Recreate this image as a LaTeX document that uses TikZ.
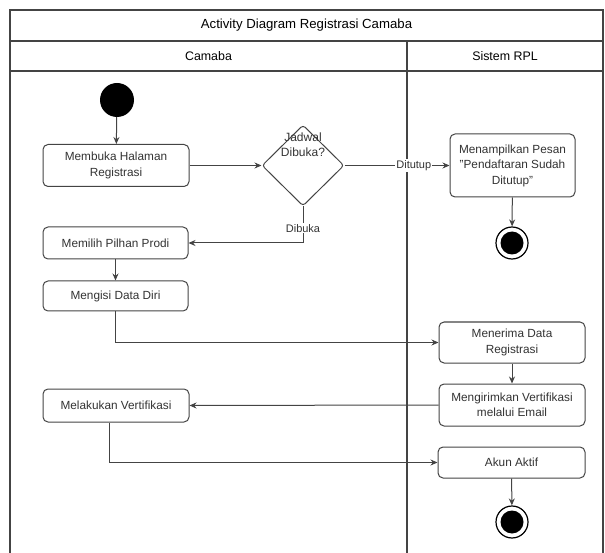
\documentclass[tikz,border=0pt]{standalone}
\usepackage{fontspec}
\setmainfont{Liberation Sans}
\usetikzlibrary{shapes.geometric,arrows.meta}
\definecolor{ln}{HTML}{444444}
\definecolor{tx}{HTML}{333333}
\tikzset{
  act/.style={draw=ln, line width=1pt, rounded corners=5pt, fill=white, text=tx, align=center, font=\fontsize{11.8}{15.5}\selectfont, inner sep=0pt},
  conn/.style={draw=ln, line width=1pt, -{Stealth[length=7pt,width=6pt]}},
  lane/.style={draw=ln, line width=1.1pt},
  lbl/.style={fill=white, text=tx, font=\fontsize{11}{13}\selectfont, inner sep=1pt},
  hdr/.style={text=black, font=\fontsize{12.4}{14}\selectfont},
  endst/.style={circle, draw=black, line width=1.2pt, minimum size=32pt, inner sep=0pt, fill=white,
    path picture={\fill[black] (path picture bounding box.center) circle (11.5pt);}}
}
\begin{document}
\begin{tikzpicture}[x=1pt,y=-1pt]
\useasboundingbox (0,0) rectangle (605,553);
% swimlane frame
\draw[lane] (10,553) -- (10,10) -- (603,10) -- (603,553);
\draw[lane] (10,41) -- (603,41);
\draw[lane] (10,71) -- (603,71);
\draw[lane] (407,41) -- (407,553);
\node[hdr, font=\fontsize{13.2}{15}\selectfont] (title) at (306.5,25.5) {Activity Diagram Registrasi Camaba};
\node[hdr] (laneA) at (208.5,56) {Camaba};
\node[hdr] (laneB) at (505,56) {Sistem RPL};
% nodes
\node[circle, fill=black, minimum size=34pt, inner sep=0pt] (start) at (117,100) {};
\node[act, minimum width=146pt, minimum height=42pt] (membuka) at (116,165.5) {Membuka Halaman\\Registrasi};
\node[diamond, draw=ln, line width=1pt, rounded corners=3pt, minimum width=82pt, minimum height=81pt, inner sep=0pt] (dec) at (303,165.5) {};
\node[text=tx, align=center, font=\fontsize{12}{15}\selectfont] (dectext) at (303,145) {Jadwal\\Dibuka?};
\node[act, minimum width=125pt, minimum height=63pt] (tampil) at (512.5,165.5) {Menampilkan Pesan\\\symbol{34}Pendaftaran Sudah\\Ditutup\symbol{34}};
\node[endst] (end1) at (512,243) {};
\node[act, minimum width=145pt, minimum height=32pt] (memilih) at (115.5,243) {Memilih Pilhan Prodi};
\node[act, minimum width=145pt, minimum height=30pt] (mengisi) at (115.5,296) {Mengisi Data Diri};
\node[act, minimum width=146pt, minimum height=41pt] (terima) at (512,342.5) {Menerima Data\\Registrasi};
\node[act, minimum width=146pt, minimum height=42pt] (kirim) at (512,405) {Mengirimkan Vertifikasi\\melalui Email};
\node[act, minimum width=146pt, minimum height=33pt] (lakukan) at (116,405.5) {Melakukan Vertifikasi};
\node[act, minimum width=147pt, minimum height=31pt] (akun) at (511.5,462.5) {Akun Aktif};
\node[endst] (end2) at (512,522) {};
\coordinate (vx) at (109,0);
% connectors
\draw[conn] (start) -- (membuka);
\draw[conn] (membuka) -- (dec);
\draw[conn] (dec.east) -- node[lbl, pos=0.66] (ditutup) {Ditutup} (tampil.west);
\draw[conn] (tampil) -- (end1);
\draw[conn] (dec.south) -- node[lbl, pos=0.6] (dibuka) {Dibuka} (dec.south |- memilih.east) -- (memilih.east);
\draw[conn] (memilih) -- (mengisi);
\draw[conn] (mengisi.south) |- (terima.west);
\draw[conn] (terima) -- (kirim);
\draw[conn] (kirim.west) -- (lakukan.east);
\draw[conn] (lakukan.south -| vx) |- (akun.west);
\draw[conn] (akun) -- (end2);
\end{tikzpicture}
\end{document}
